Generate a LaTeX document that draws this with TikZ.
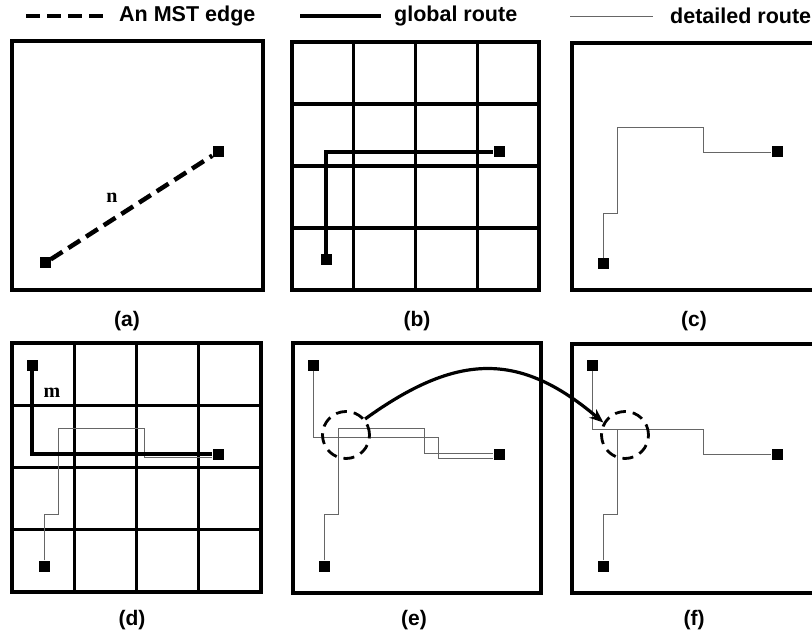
\documentclass[tikz,border=0pt]{standalone}
\usepackage{fontspec}
\setmainfont{Liberation Serif}
\setsansfont{Liberation Sans}
\usepackage{tikz}
\usetikzlibrary{positioning,arrows.meta}

\begin{document}
\begin{tikzpicture}[x=1pt, y=-1pt,
  frame/.style={line width=3.6pt},
  gline/.style={line width=3.4pt},
  term/.style={fill=black, minimum size=11pt, inner sep=0pt},
  mst/.style={line width=4.5pt, dash pattern=on 14pt off 7pt},
  glob/.style={line width=3.8pt},
  detl/.style={line width=0.8pt, black!60},
  ring/.style={circle, draw, minimum size=47pt, inner sep=0pt, line width=2.8pt, dash pattern=on 11pt off 7pt},
  hop/.style={line width=3.2pt, -{Stealth[length=14pt,width=11pt]}},
  sublabel/.style={font=\sffamily\bfseries\fontsize{21}{24}\selectfont},
  legtext/.style={font=\sffamily\bfseries\fontsize{21.5}{24}\selectfont, inner sep=0pt},
  wire/.style={font=\rmfamily\bfseries\fontsize{20}{22}\selectfont, inner sep=0pt},
]
\useasboundingbox (0,0) rectangle (812,639);

% legend
\coordinate (k1a) at (26,16);  \coordinate (k1b) at (104,16);
\coordinate (k2a) at (300,16); \coordinate (k2b) at (381,16);
\coordinate (k3a) at (570,16); \coordinate (k3b) at (653,16);
\draw[mst] (k1a) -- (k1b);
\draw[glob] (k2a) -- (k2b);
\draw[detl] (k3a) -- (k3b);
\node[legtext, right=15pt of k1b] (k1t) {An MST edge};
\node[legtext, right=13pt of k2b] (k2t) {global route};
\node[legtext, right=17pt of k3b] (k3t) {detailed route};

% frames and grids
\draw[frame] (12,41) rectangle (263,290);   % (a)
\draw[frame] (292,42) rectangle (539,290);  % (b)
\draw[frame] (572,43) rectangle (814,290);  % (c), cut at the edge
\draw[frame] (12,343) rectangle (261,592);  % (d)
\draw[frame] (293,343) rectangle (541,593); % (e)
\draw[frame] (572,344) rectangle (814,593); % (f)
\foreach \i in {1,2,3} {
  \draw[gline] ({292+61.75*\i},42) -- ({292+61.75*\i},290);
  \draw[gline] (292,{42+62*\i}) -- (539,{42+62*\i});
  \draw[gline] ({12+62.25*\i},343) -- ({12+62.25*\i},592);
  \draw[gline] (12,{343+62.25*\i}) -- (261,{343+62.25*\i});
}

% pins
\node[term] (a1) at (45,263) {};  \node[term] (a2) at (218,152) {};
\node[term] (b1) at (326,260) {}; \node[term] (b2) at (499,152) {};
\node[term] (c1) at (603,264) {}; \node[term] (c2) at (777,152) {};
\node[term] (d1) at (32,365) {};  \node[term] (d2) at (218,454) {};
\node[term] (d3) at (44,566) {};
\node[term] (e1) at (313,365) {}; \node[term] (e2) at (499,454) {};
\node[term] (e3) at (324,566) {};
\node[term] (f1) at (592,365) {}; \node[term] (f2) at (777,454) {};
\node[term] (f3) at (603,566) {};

% (a) MST edge
\draw[mst] (a1) -- (a2);
\node[wire] (n) at (112,198) {n};
% (b) global route
\draw[glob] (b1) |- (b2);
% (c) detailed route
\draw[detl] (c1) |- (617,213) |- (703,127) |- (c2);
% (d) both
\draw[detl] (d3) |- (58,514) |- (144,428) |- (d2.west |- 0,457);
\draw[glob] (d1) |- (d2);
\node[wire] (m) at (52,393) {m};
% (e) two detailed routes
\draw[detl] (e1) |- (438,437) |- (e2.west |- 0,458);
\draw[detl] (e3) |- (338,514) |- (424,428) |- (e2.west |- 0,453);
\node[ring] (ce) at (346,435) {};
% (f) merged tree
\draw[detl] (f1) |- (617,429);
\draw[detl] (f3) |- (617,514) |- (703,429) |- (f2);
\node[ring] (cf) at (625,435) {};
\draw[hop] (ce.40) .. controls (458,352) and (520,352) .. (cf.150);

% sub-captions
\node[sublabel] (la) at (127,321) {(a)};
\node[sublabel] (lb) at (417,321) {(b)};
\node[sublabel] (lc) at (694,321) {(c)};
\node[sublabel] (ld) at (132,620) {(d)};
\node[sublabel] (le) at (414,620) {(e)};
\node[sublabel] (lf) at (694,620) {(f)};
\end{tikzpicture}
\end{document}
